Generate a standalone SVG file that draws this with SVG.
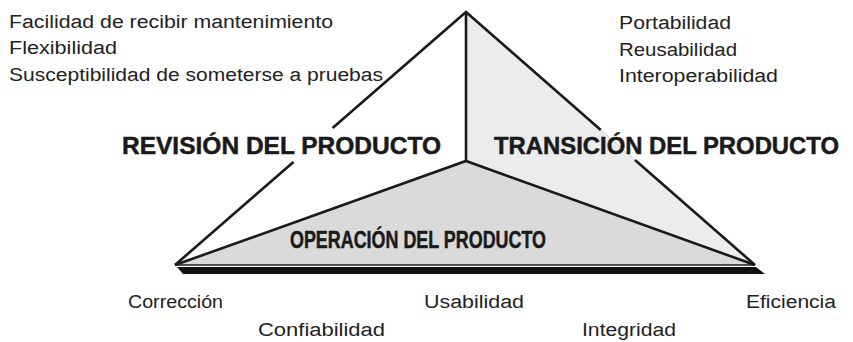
<svg xmlns="http://www.w3.org/2000/svg" width="853" height="342" viewBox="0 0 853 342">
<style>
  .edge{fill:none;stroke:#1a1a1a;stroke-width:2.6;stroke-linecap:butt;stroke-linejoin:miter}
  .small{font-family:"Liberation Sans",Arial,sans-serif;font-size:18px;fill:#222}
  .big{font-family:"Liberation Sans",Arial,sans-serif;font-size:24px;font-weight:bold;fill:#1a1a1a;stroke:#1a1a1a;stroke-width:0.5}
</style>
<rect width="853" height="342" fill="#ffffff"/>
<g id="face-revision">
  <polygon points="175,265 466,12 466,161" fill="#ffffff"/>
</g>
<g id="face-transicion">
  <polygon points="466,12 755,265 466,161" fill="#ececec"/>
</g>
<g id="face-operacion">
  <polygon points="175,265 466,161 755,265" fill="#dadada"/>
  <polygon points="177,267 756,267 765,274 183,274" fill="#111111"/>
</g>
<g id="connectors">
  <polyline class="edge" points="175,265 293.5,162"/>
  <polyline class="edge" points="332.6,128 466,12 600.8,130"/>
  <line x1="600.8" y1="130" x2="635" y2="160" stroke="#c4c4c4" stroke-width="0.7"/>
  <polyline class="edge" points="635,160 755,265"/>
  <polyline class="edge" points="466,12 466,161"/>
  <polyline class="edge" points="175,265 466,161 755,265"/>
  <line x1="175" y1="265" x2="755" y2="265" stroke="#1a1a1a" stroke-width="1.5"/>
</g>
<g id="labels-revision">
  <text class="small" x="9" y="28" textLength="324" lengthAdjust="spacingAndGlyphs">Facilidad de recibir mantenimiento</text>
  <text class="small" x="9" y="54" textLength="108" lengthAdjust="spacingAndGlyphs">Flexibilidad</text>
  <text class="small" x="9" y="81" textLength="374" lengthAdjust="spacingAndGlyphs">Susceptibilidad de someterse a pruebas</text>
  <text class="big" x="122" y="154" textLength="319" lengthAdjust="spacingAndGlyphs">REVISIÓN DEL PRODUCTO</text>
</g>
<g id="labels-transicion">
  <text class="small" x="619" y="29" textLength="112" lengthAdjust="spacingAndGlyphs">Portabilidad</text>
  <text class="small" x="619" y="56" textLength="118" lengthAdjust="spacingAndGlyphs">Reusabilidad</text>
  <text class="small" x="619" y="82" textLength="159" lengthAdjust="spacingAndGlyphs">Interoperabilidad</text>
  <text class="big" x="494" y="154" textLength="345" lengthAdjust="spacingAndGlyphs">TRANSICIÓN DEL PRODUCTO</text>
</g>
<g id="labels-operacion">
  <text class="big" x="290" y="248" textLength="256" lengthAdjust="spacingAndGlyphs">OPERACIÓN DEL PRODUCTO</text>
  <text class="small" x="128" y="308" textLength="95" lengthAdjust="spacingAndGlyphs">Corrección</text>
  <text class="small" x="424" y="308" textLength="100" lengthAdjust="spacingAndGlyphs">Usabilidad</text>
  <text class="small" x="746" y="308" textLength="90" lengthAdjust="spacingAndGlyphs">Eficiencia</text>
  <text class="small" x="258" y="336" textLength="127" lengthAdjust="spacingAndGlyphs">Confiabilidad</text>
  <text class="small" x="582" y="336" textLength="94" lengthAdjust="spacingAndGlyphs">Integridad</text>
</g>
</svg>
